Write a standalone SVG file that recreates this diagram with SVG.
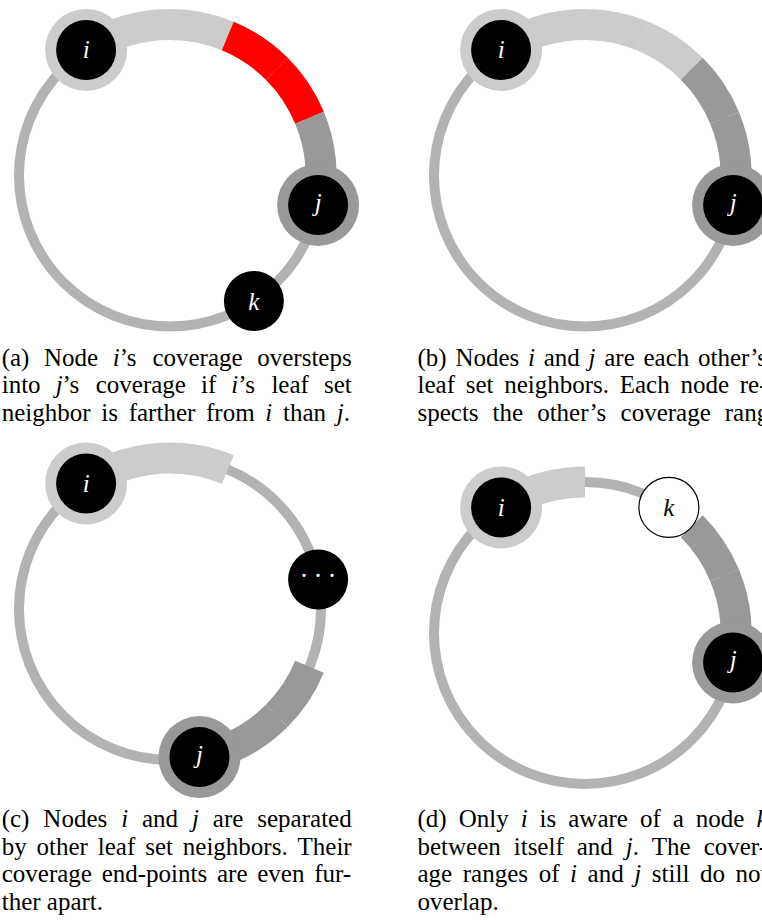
<svg xmlns="http://www.w3.org/2000/svg" width="762" height="920" viewBox="0 0 762 920">
  <style>
    .ring { fill: none; stroke: #b3b3b3; stroke-width: 10; }
    .cov { fill: none; stroke-width: 31; }
    .li { stroke: #cccccc; }
    .dk { stroke: #999999; }
    .red { stroke: #ff0000; }
    .core { fill: #000000; }
    .halo-li { fill: #cccccc; }
    .halo-dk { fill: #999999; }
    .open { fill: #ffffff; stroke: #000000; stroke-width: 1.2; }
    .lbl { font-family: "Liberation Serif", "Times New Roman", serif; font-style: italic; font-size: 25px; fill: #ffffff; text-anchor: middle; }
    .lbl.dark { fill: #000000; }
    .dots { font-family: "Liberation Serif", "Times New Roman", serif; font-size: 27px; fill: #ffffff; text-anchor: middle; letter-spacing: 5px; }
    .cap { font-family: "Liberation Serif", "Times New Roman", serif; font-size: 25px; fill: #000000; }
    .m { font-style: italic; }
  </style>

  <!-- (a): overlapping coverage -->
  <g id="panel-a" transform="translate(170,175.5)">
    <g id="a-arcs">
      <circle class="ring" r="151"/>
      <path class="cov li" d="M-83.89,-125.55 A151,151 0 0 1 0,-151"/>
      <path class="cov li" d="M0,-151 A151,151 0 0 1 57.78,-139.51"/>
      <path class="cov red" d="M57.78,-139.51 A151,151 0 0 1 106.77,-106.77"/>
      <path class="cov red" d="M106.77,-106.77 A151,151 0 0 1 139.51,-57.78"/>
      <path class="cov dk" d="M139.51,-57.78 A151,151 0 0 1 148.10,29.46"/>
    </g>
    <g id="a-node-i" transform="translate(-83.89,-125.55)">
      <circle class="halo-li" r="41"/><circle class="core" r="30"/>
      <text class="lbl" y="8.5">i</text>
    </g>
    <g id="a-node-j" transform="translate(148.10,29.46)">
      <circle class="halo-dk" r="41"/><circle class="core" r="30"/>
      <text class="lbl" y="6">j</text>
    </g>
    <g id="a-node-k" transform="translate(83.89,125.55)">
      <circle class="core" r="30"/>
      <text class="lbl" y="9">k</text>
    </g>
  </g>

  <!-- (b): each other's neighbours -->
  <g id="panel-b" transform="translate(585,175.5)">
    <g id="b-arcs">
      <circle class="ring" r="151"/>
      <path class="cov li" d="M-83.89,-125.55 A151,151 0 0 1 0,-151"/>
      <path class="cov li" d="M0,-151 A151,151 0 0 1 57.78,-139.51"/>
      <path class="cov li" d="M57.78,-139.51 A151,151 0 0 1 106.77,-106.77"/>
      <path class="cov dk" d="M106.77,-106.77 A151,151 0 0 1 139.51,-57.78"/>
      <path class="cov dk" d="M139.51,-57.78 A151,151 0 0 1 148.10,29.46"/>
    </g>
    <g id="b-node-i" transform="translate(-83.89,-125.55)">
      <circle class="halo-li" r="41"/><circle class="core" r="30"/>
      <text class="lbl" y="8.5">i</text>
    </g>
    <g id="b-node-j" transform="translate(148.10,29.46)">
      <circle class="halo-dk" r="41"/><circle class="core" r="30"/>
      <text class="lbl" y="6">j</text>
    </g>
  </g>

  <!-- (c): separated by other neighbours -->
  <g id="panel-c" transform="translate(170,609)">
    <g id="c-arcs">
      <circle class="ring" r="151"/>
      <path class="cov li" d="M-83.89,-125.55 A151,151 0 0 1 0,-151"/>
      <path class="cov li" d="M0,-151 A151,151 0 0 1 57.78,-139.51"/>
      <path class="cov dk" d="M139.51,57.78 A151,151 0 0 1 106.77,106.77"/>
      <path class="cov dk" d="M106.77,106.77 A151,151 0 0 1 29.46,148.10"/>
    </g>
    <g id="c-node-i" transform="translate(-83.89,-125.55)">
      <circle class="halo-li" r="41"/><circle class="core" r="30"/>
      <text class="lbl" y="8.5">i</text>
    </g>
    <g id="c-node-others" transform="translate(148.10,-29.46)">
      <circle class="core" r="30"/>
      <text class="dots" x="2.5" y="5">···</text>
    </g>
    <g id="c-node-j" transform="translate(29.46,148.10)">
      <circle class="halo-dk" r="41"/><circle class="core" r="30"/>
      <text class="lbl" y="6">j</text>
    </g>
  </g>

  <!-- (d): k known only to i -->
  <g id="panel-d" transform="translate(585,633)">
    <g id="d-arcs">
      <circle class="ring" r="151"/>
      <path class="cov li" d="M-83.89,-125.55 A151,151 0 0 1 0,-151"/>
      <path class="cov dk" d="M106.77,-106.77 A151,151 0 0 1 139.51,-57.78"/>
      <path class="cov dk" d="M139.51,-57.78 A151,151 0 0 1 148.10,29.46"/>
    </g>
    <g id="d-node-i" transform="translate(-83.89,-125.55)">
      <circle class="halo-li" r="41"/><circle class="core" r="30"/>
      <text class="lbl" y="8.5">i</text>
    </g>
    <g id="d-node-k" transform="translate(83.89,-125.55)">
      <circle class="open" r="30"/>
      <text class="lbl dark" y="9">k</text>
    </g>
    <g id="d-node-j" transform="translate(148.10,29.46)">
      <circle class="halo-dk" r="41"/><circle class="core" r="30"/>
      <text class="lbl" y="6">j</text>
    </g>
  </g>

  <!-- captions, justified word by word -->
  <g id="caption-a" class="cap">
    <text y="365.5"><tspan x="1.7">(a)</tspan><tspan x="44.06">Node</tspan><tspan x="112.82" class="m">i</tspan><tspan>’s</tspan><tspan x="152.43">coverage</tspan><tspan x="257.27">oversteps</tspan></text>
    <text y="393"><tspan x="1.7">into</tspan><tspan x="55.66" class="m">j</tspan><tspan>’s</tspan><tspan x="95.72">coverage</tspan><tspan x="201.0">if</tspan><tspan x="231.34" class="m">i</tspan><tspan>’s</tspan><tspan x="271.4">leaf</tspan><tspan x="323.93">set</tspan></text>
    <text y="420.5"><tspan x="1.7">neighbor</tspan><tspan x="101.3">is</tspan><tspan x="128.7">farther</tspan><tspan x="206.0">from</tspan><tspan x="265.3" class="m">i</tspan><tspan x="283.0">than</tspan><tspan x="336.8" class="m">j</tspan><tspan>.</tspan></text>
  </g>
  <g id="caption-b" class="cap">
    <text y="365.5"><tspan x="417.5">(b)</tspan><tspan x="455.4">Nodes</tspan><tspan x="528.0" class="m">i</tspan><tspan x="543.7">and</tspan><tspan x="588.55" class="m">j</tspan><tspan x="604.25">are</tspan><tspan x="643.5">each</tspan><tspan x="698.05">other’s</tspan></text>
    <text y="393"><tspan x="417.5">leaf</tspan><tspan x="465.69">set</tspan><tspan x="504.18">neighbors.</tspan><tspan x="619.75">Each</tspan><tspan x="680.44">node</tspan><tspan x="739.75">re-</tspan></text>
    <text y="420.5"><tspan x="417.5">spects</tspan><tspan x="492.6">the</tspan><tspan x="537.15">other’s</tspan><tspan x="620.6">coverage</tspan><tspan x="724.8">range.</tspan></text>
  </g>
  <g id="caption-c" class="cap">
    <text y="827"><tspan x="1.7">(c)</tspan><tspan x="43.36">Nodes</tspan><tspan x="121.15" class="m">i</tspan><tspan x="142.0">and</tspan><tspan x="192.0" class="m">j</tspan><tspan x="212.86">are</tspan><tspan x="257.3">separated</tspan></text>
    <text y="854.5"><tspan x="1.7">by</tspan><tspan x="36.58">other</tspan><tspan x="97.83">leaf</tspan><tspan x="145.18">set</tspan><tspan x="182.83">neighbors.</tspan><tspan x="297.55">Their</tspan></text>
    <text y="882"><tspan x="1.7">coverage</tspan><tspan x="101.68">end-points</tspan><tspan x="216.99">are</tspan><tspan x="257.27">even</tspan><tspan x="314.23">fur-</tspan></text>
    <text y="909.5" x="1.7">ther apart.</text>
  </g>
  <g id="caption-d" class="cap">
    <text y="827"><tspan x="417.5">(d)</tspan><tspan x="458.64">Only</tspan><tspan x="520.63" class="m">i</tspan><tspan x="539.57">is</tspan><tspan x="568.24">aware</tspan><tspan x="639.9">of</tspan><tspan x="672.72">a</tspan><tspan x="695.81">node</tspan><tspan x="756.4" class="m">k</tspan></text>
    <text y="854.5"><tspan x="417.5">between</tspan><tspan x="513.74">itself</tspan><tspan x="576.67">and</tspan><tspan x="625.7" class="m">j</tspan><tspan>.</tspan><tspan x="651.84">The</tspan><tspan x="703.65">cover-</tspan></text>
    <text y="882"><tspan x="417.5">age</tspan><tspan x="462.79">ranges</tspan><tspan x="538.63">of</tspan><tspan x="570.05" class="m">i</tspan><tspan x="587.59">and</tspan><tspan x="634.28" class="m">j</tspan><tspan x="651.82">still</tspan><tspan x="699.94">do</tspan><tspan x="735.53">not</tspan></text>
    <text y="909.5" x="417.5">overlap.</text>
  </g>
</svg>
